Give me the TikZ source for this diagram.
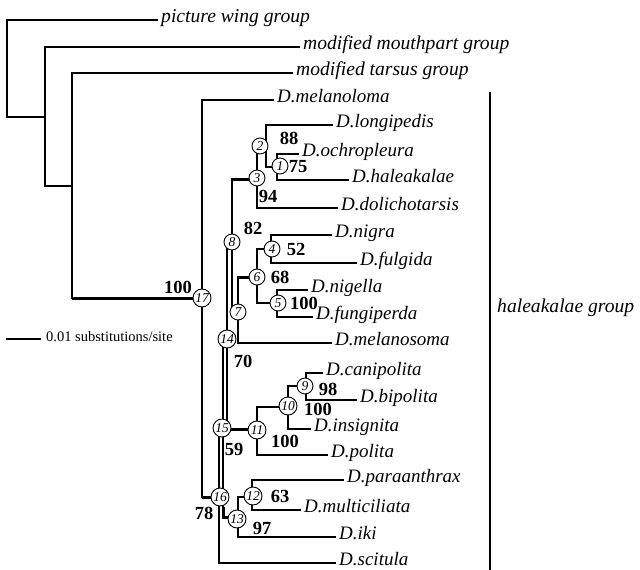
\documentclass[tikz,border=0pt]{standalone}
\usepackage{fontspec}
\setmainfont{Liberation Serif}
\begin{document}
\begin{tikzpicture}[x=1pt,y=-1pt,
  br/.style={line width=1.2pt, line cap=rect},
  thk/.style={line width=3pt},
  sp/.style={anchor=mid west, inner xsep=4pt, inner ysep=0pt, font=\itshape\fontsize{19}{19}\selectfont},
  gp/.style={sp, font=\itshape\fontsize{19.6}{19.6}\selectfont},
  cn/.style={circle, draw, fill=white, line width=0.9pt, inner sep=0pt, minimum size=16pt, font=\itshape\fontsize{13.5}{13.5}\selectfont},
  cnn/.style={cn, minimum size=18pt},
  bs/.style={inner sep=0pt, font=\bfseries\fontsize{18.5}{18.5}\selectfont}
]
\useasboundingbox (0,0) rectangle (640,570);

% ---- labels ----
\node[gp] (pw) at (157,20) {picture wing group};
\node[gp] (mm) at (299,47) {modified mouthpart group};
\node[gp] (mt) at (292,73) {modified tarsus group};
\node[sp] (melanoloma) at (273,100) {D.melanoloma};
\node[sp] (longi) at (332,125) {D.longipedis};
\node[sp] (ochro) at (298,154) {D.ochropleura};
\node[sp] (halea) at (348,180) {D.haleakalae};
\node[sp] (dolicho) at (337,208) {D.dolichotarsis};
\node[sp] (nigra) at (331,235) {D.nigra};
\node[sp] (fulgida) at (356,263) {D.fulgida};
\node[sp] (nigella) at (307,290) {D.nigella};
\node[sp] (fungi) at (312,317) {D.fungiperda};
\node[sp] (melanosoma) at (331,343) {D.melanosoma};
\node[sp] (cani) at (322,373) {D.canipolita};
\node[sp] (bipolita) at (356,400) {D.bipolita};
\node[sp] (insignita) at (310,429) {D.insignita};
\node[sp] (polita) at (327,455) {D.polita};
\node[sp] (para) at (343,480) {D.paraanthrax};
\node[sp] (multi) at (300,510) {D.multiciliata};
\node[sp] (iki) at (335,537) {D.iki};
\node[sp] (scitula) at (335,563) {D.scitula};
\node[gp, inner xsep=7pt] (grp) at (490,310) {haleakalae group};

% ---- coordinates ----
\coordinate (r0t) at (7,20);   \coordinate (r0b) at (7,117);
\coordinate (r1t) at (45,47);  \coordinate (r1m) at (45,117); \coordinate (r1b) at (45,186);
\coordinate (r2t) at (72,73);  \coordinate (r2m) at (72,186); \coordinate (r2b) at (72,298);
\coordinate (c17) at (202,298); \coordinate (c17t) at (202,100); \coordinate (c17b) at (202,497);
\coordinate (c16) at (219,497); \coordinate (c16t) at (219,428); \coordinate (c16b) at (219,563);
\coordinate (c15) at (223,428); \coordinate (c15t) at (223,339); \coordinate (c15k) at (223,507); \coordinate (c15b) at (223,517);
\coordinate (c14) at (227,339); \coordinate (c14t) at (227,242); \coordinate (c14b) at (227,429);
\coordinate (c13) at (238,517); \coordinate (c13t) at (238,497); \coordinate (c13b) at (238,537);
\coordinate (c12) at (252,497); \coordinate (c12t) at (252,480); \coordinate (c12b) at (252,510);
\coordinate (c11) at (257,429); \coordinate (c11t) at (257,407); \coordinate (c11b) at (257,455);
\coordinate (c10) at (288,407); \coordinate (c10t) at (288,386); \coordinate (c10b) at (288,429);
\coordinate (c9) at (306,386); \coordinate (c9t) at (306,373); \coordinate (c9b) at (306,400);
\coordinate (c8) at (232,242); \coordinate (c8t) at (232,179); \coordinate (c8b) at (232,312);
\coordinate (c3) at (257,179); \coordinate (c3t) at (257,147); \coordinate (c3b) at (257,208);
\coordinate (c2) at (266,147); \coordinate (c2t) at (266,125); \coordinate (c2b) at (266,167);
\coordinate (c1) at (277,167); \coordinate (c1t) at (277,154); \coordinate (c1b) at (277,180);
\coordinate (c7) at (238,312); \coordinate (c7t) at (238,277); \coordinate (c7b) at (238,343);
\coordinate (c6) at (257,277); \coordinate (c6t) at (257,249); \coordinate (c6b) at (257,303);
\coordinate (c4) at (271,249); \coordinate (c4t) at (271,235); \coordinate (c4b) at (271,263);
\coordinate (c5) at (277,303); \coordinate (c5t) at (277,290); \coordinate (c5b) at (277,317);
\coordinate (sb1) at (7,339); \coordinate (gb1) at (490,93); \coordinate (gb2) at (490,570);

% ---- branches ----
\draw[br] (pw.mid west) -- (r0t) -- (r0b) -- (r1m);
\draw[br] (mm.mid west) -- (r1t) -- (r1b) -- (r2m);
\draw[br] (mt.mid west) -- (r2t) -- (r2b);
\draw[thk] (r2b) -- (c17);
\draw[br] (melanoloma.mid west) -- (c17t) -- (c17b);
\draw[thk] (c17b) -- (c16);
\draw[br] (c16t) -- (c16b) -- (scitula.mid west);
\draw[br] (c16t) -- (c15);
\draw[br] (c15t) -- (c15b);
\draw[thk] (c15k) -- (c15b) -- (c13);
\draw[br] (c13t) -- (c13b) -- (iki.mid west);
\draw[br] (c13t) -- (c12);
\draw[br] (para.mid west) -- (c12t) -- (c12b) -- (multi.mid west);
\draw[br] (c15t) -- (c14);
\draw[br] (c14t) -- (c14b);
\draw[thk] (c14b) -- (c11);
\draw[br] (c11t) -- (c11b) -- (polita.mid west);
\draw[br] (c11t) -- (c10);
\draw[br] (c10t) -- (c10b) -- (insignita.mid west);
\draw[br] (c10t) -- (c9);
\draw[br] (cani.mid west) -- (c9t) -- (c9b) -- (bipolita.mid west);
\draw[br] (c14t) -- (c8);
\draw[br] (c8t) -- (c8b);
\draw[thk] (c8t) -- (c3);
\draw[br] (c3t) -- (c3b) -- (dolicho.mid west);
\draw[br] (c3t) -- (c2);
\draw[br] (longi.mid west) -- (c2t) -- (c2b) -- (c1);
\draw[br] (ochro.mid west) -- (c1t) -- (c1b) -- (halea.mid west);
\draw[br] (c8b) -- (c7);
\draw[br] (c7t) -- (c7b) -- (melanosoma.mid west);
\draw[thk] (c7t) -- (c6);
\draw[br] (c6t) -- (c6b) -- (c5);
\draw[br] (c6t) -- (c4);
\draw[br] (nigra.mid west) -- (c4t) -- (c4b) -- (fulgida.mid west);
\draw[br] (nigella.mid west) -- (c5t) -- (c5b) -- (fungi.mid west);

% ---- scale bar and group bracket ----
\node[anchor=mid west, inner xsep=6pt, inner ysep=0pt, font=\fontsize{14.5}{14.5}\selectfont] (scale) at (40,339) {0.01 substitutions/site};
\draw[br] (sb1) -- (scale.mid west);
\draw[br] (gb1) -- (gb2);

% ---- node circles ----
\node[cnn] (n17) at (202,298) {17};
\node[cnn] (n16) at (220,497) {16};
\node[cnn] (n15) at (222,428) {15};
\node[cnn] (n14) at (227,339) {14};
\node[cnn] (n13) at (237,519) {13};
\node[cnn] (n12) at (253,496) {12};
\node[cnn] (n11) at (257,430) {11};
\node[cnn] (n10) at (288,406) {10};
\node[cn] (n9) at (305,386) {9};
\node[cn] (n8) at (232,242) {8};
\node[cn] (n7) at (238,312) {7};
\node[cn] (n6) at (257,277) {6};
\node[cn] (n5) at (278,303) {5};
\node[cn] (n4) at (272,249) {4};
\node[cn] (n3) at (257,178) {3};
\node[cn] (n2) at (260,146) {2};
\node[cn] (n1) at (280,166) {1};

% ---- support values ----
\node[bs] (b17) at (178,287) {100};
\node[bs] (b2) at (289,138) {88};
\node[bs] (b1) at (298,167) {75};
\node[bs] (b3) at (268,196) {94};
\node[bs] (b8) at (253,228) {82};
\node[bs] (b4) at (296,249) {52};
\node[bs] (b6) at (280,277) {68};
\node[bs] (b5) at (304,303) {100};
\node[bs] (b14) at (243,361) {70};
\node[bs] (b9) at (328,389) {98};
\node[bs] (b10) at (318,409) {100};
\node[bs] (b11) at (285,441) {100};
\node[bs] (b15) at (234,449) {59};
\node[bs] (b12) at (280,496) {63};
\node[bs] (b13) at (262,528) {97};
\node[bs] (b16) at (204,513) {78};
\end{tikzpicture}
\end{document}
